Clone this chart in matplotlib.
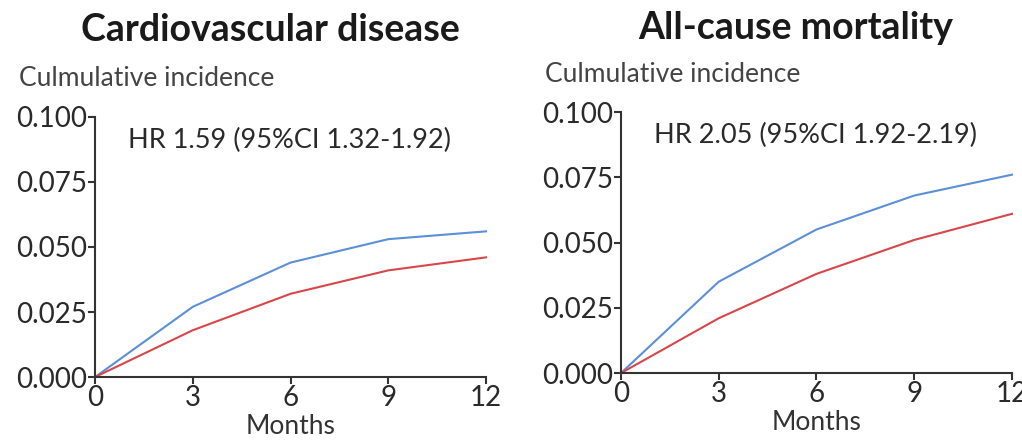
import matplotlib.pyplot as plt
import numpy as np

plt.rcParams['font.family'] = ['Lato', 'DejaVu Sans']

# months
months = [0, 3, 6, 9, 12]

# cardiovascular disease
cvd_blue = [0.0, 0.027, 0.044, 0.053, 0.056]
cvd_red = [0.0, 0.018, 0.032, 0.041, 0.046]

# all-cause mortality
acm_blue = [0.0, 0.035, 0.055, 0.068, 0.076]
acm_red = [0.0, 0.021, 0.038, 0.051, 0.061]

titles = ['Cardiovascular disease', 'All-cause mortality']
hr_texts = ['HR 1.59 (95%CI 1.32-1.92)', 'HR 2.05 (95%CI 1.92-2.19)']
yticks = [0.0, 0.025, 0.05, 0.075, 0.1]
ytick_labels = ['0.000', '0.025', '0.050', '0.075', '0.100']

blue = '#5b8fd8'
red = '#d9464a'
axis_col = '#333333'

fig = plt.figure(figsize=(10.22, 4.41), dpi=100, facecolor='white')

positions = [[0.093, 0.145, 0.3826, 0.59], [0.6076, 0.154, 0.3826, 0.592]]
series = [(cvd_blue, cvd_red), (acm_blue, acm_red)]
title_y = [0.932, 0.937]
cap_y = [0.823, 0.832]

for i in range(2):
    ax = fig.add_axes(positions[i])
    b, r = series[i]
    ax.plot(months, b, color=blue, lw=1.5, clip_on=False)
    ax.plot(months, r, color=red, lw=1.5, clip_on=False)
    ax.set_xlim(0, 12)
    ax.set_ylim(0, 0.1)
    ax.set_xticks(months)
    ax.set_yticks(yticks)
    ax.set_yticklabels(ytick_labels)
    for s in ['top', 'right']:
        ax.spines[s].set_visible(False)
    for s in ['left', 'bottom']:
        ax.spines[s].set_color(axis_col)
        ax.spines[s].set_linewidth(1.5)
    ax.tick_params(axis='both', colors=axis_col, labelcolor='#2a2a2a',
                   length=5, width=1.5, labelsize=20, pad=1)
    ax.set_xlabel('Months', fontsize=19, color='#333333', labelpad=2)
    ax.text(0.085, 0.91, hr_texts[i], transform=ax.transAxes,
            fontsize=19.5, color='#2a2a2a', va='center', ha='left')
    # title and y caption
    cx = positions[i][0] + positions[i][2] / 2 - 0.02
    fig.text(cx, title_y[i], titles[i], fontsize=27, fontweight='bold',
             ha='center', va='center', color='#1a1a1a')
    fig.text(positions[i][0] - 0.074, cap_y[i], 'Culmulative incidence',
             fontsize=19, ha='left', va='center', color='#444444')

plt.savefig('out.png', dpi=100, facecolor='white')
